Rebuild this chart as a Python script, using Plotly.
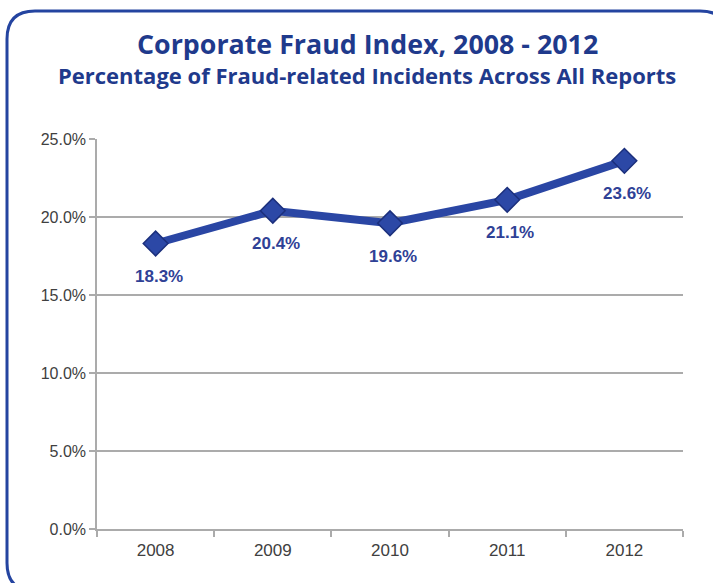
import plotly.graph_objects as go

years = ["2008", "2009", "2010", "2011", "2012"]
fraud_pct = [18.3, 20.4, 19.6, 21.1, 23.6]
y_ticks = [0, 5, 10, 15, 20, 25]
y_tick_labels = ["0.0%", "5.0%", "10.0%", "15.0%", "20.0%", "25.0%"]

W, H = 713, 583
M_L, M_R, M_T, M_B = 97, 30, 139, 54
PW, PH = W - M_L - M_R, H - M_T - M_B

BLUE_LINE = "#2a46a4"
BLUE_TEXT = "#2f4196"
TITLE_BLUE = "#1f3a8c"
GRID = "#ababab"
X_TICK_FONT = dict(family="Arial", size=17, color="#404040")
Y_TICK_FONT = dict(family="Arial", size=16, color="#404040")


def px_to_paper(x, y):
    return (x - M_L) / PW, (H - M_B - y) / PH


fig = go.Figure()

fig.add_trace(go.Scatter(
    x=years,
    y=fraud_pct,
    mode="lines+markers",
    line=dict(color=BLUE_LINE, width=8),
    marker=dict(symbol="diamond", size=19, color="#2c48a6",
                line=dict(color="#1b2f7c", width=1.5)),
    hoverinfo="skip",
    showlegend=False,
))

# value labels under each point (x given as category index)
for i, v in enumerate(fraud_pct):
    fig.add_annotation(
        x=i, y=v, xref="x", yref="y",
        text=f"<b>{v:.1f}%</b>", showarrow=False,
        yshift=-33, xshift=3,
        font=dict(family="Arial", size=17, color=BLUE_TEXT),
    )

# titles
tx, ty = px_to_paper(367, 44)
fig.add_annotation(
    x=tx, y=ty, xref="paper", yref="paper", showarrow=False,
    text="<b>Corporate Fraud Index, 2008 - 2012</b>",
    font=dict(family="Open Sans", size=26.8, color=TITLE_BLUE),
    xanchor="center", yanchor="middle",
)
sx, sy = px_to_paper(367, 75)
fig.add_annotation(
    x=sx, y=sy, xref="paper", yref="paper", showarrow=False,
    text="<b>Percentage of Fraud-related Incidents Across All Reports</b>",
    font=dict(family="Open Sans", size=22, color=TITLE_BLUE),
    xanchor="center", yanchor="middle",
)

# rounded frame around the chart
L, T, R, B, r = 7, 11, 728, 591, 28
pts = {
    "a": px_to_paper(L + r, T), "b": px_to_paper(R - r, T),
    "c": px_to_paper(R, T), "d": px_to_paper(R, T + r),
    "e": px_to_paper(R, B - r), "f": px_to_paper(R, B),
    "g": px_to_paper(R - r, B), "h": px_to_paper(L + r, B),
    "i": px_to_paper(L, B), "j": px_to_paper(L, B - r),
    "k": px_to_paper(L, T + r), "l": px_to_paper(L, T),
}
p = lambda k: f"{pts[k][0]:.5f},{pts[k][1]:.5f}"
path = (f"M {p('a')} L {p('b')} Q {p('c')} {p('d')} L {p('e')} "
        f"Q {p('f')} {p('g')} L {p('h')} Q {p('i')} {p('j')} L {p('k')} "
        f"Q {p('l')} {p('a')} Z")
fig.add_shape(type="path", path=path, xref="paper", yref="paper",
              line=dict(color="#2444a0", width=3), layer="above")

fig.update_layout(
    width=W, height=H,
    margin=dict(l=M_L, r=M_R, t=M_T, b=M_B),
    paper_bgcolor="white", plot_bgcolor="white",
    font=dict(family="Arial", size=15, color="#404040"),
)
fig.update_xaxes(
    type="category", range=[-0.5, 4.5],
    showgrid=False, showline=True, linecolor=GRID, linewidth=1.5,
    ticks="outside", tickson="boundaries", ticklen=6, tickcolor=GRID,
    tickwidth=1.5, tickfont=X_TICK_FONT, ticklabelstandoff=5,
)
fig.update_yaxes(
    range=[0, 25], tickvals=y_ticks, ticktext=y_tick_labels,
    showgrid=True, gridcolor=GRID, gridwidth=1.5,
    showline=True, linecolor=GRID, linewidth=1.5,
    ticks="outside", ticklen=6, tickcolor=GRID, tickwidth=1.5,
    zeroline=False, tickfont=Y_TICK_FONT,
)

fig.write_html("out.html")
